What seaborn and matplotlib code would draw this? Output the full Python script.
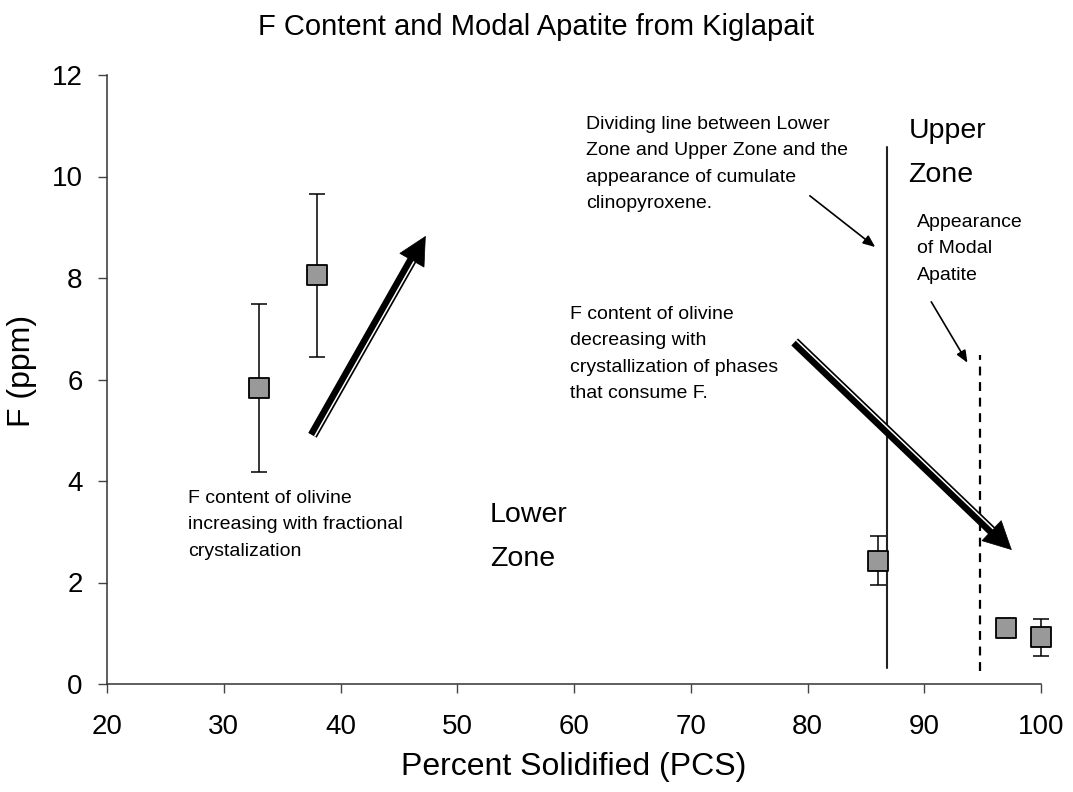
import numpy as np
import pandas as pd
import matplotlib
matplotlib.use("Agg")
import matplotlib.pyplot as plt
import seaborn as sns

# Percent solidified and F content of olivine, with error bar limits
pcs = [33, 38, 86, 97, 100]
f_ppm = [5.83, 8.05, 2.43, 1.10, 0.92]
f_low = [4.17, 6.45, 1.95, 1.10, 0.55]
f_high = [7.49, 9.65, 2.92, 1.10, 1.29]

x_ticks = [20, 30, 40, 50, 60, 70, 80, 90, 100]
y_ticks = [0, 2, 4, 6, 8, 10, 12]

sns.set_theme(style="white")
plt.rcParams["font.family"] = ["Liberation Sans", "DejaVu Sans"]
plt.rcParams["text.color"] = "black"

df = pd.DataFrame({"PCS": pcs, "F": f_ppm})

fig = plt.figure(figsize=(10.73, 7.92), dpi=100)
ax = fig.add_axes([107 / 1073, 1 - 684 / 792, (1041 - 107) / 1073, (684 - 75) / 792])

yerr = np.array([np.array(f_ppm) - np.array(f_low), np.array(f_high) - np.array(f_ppm)])
eb = ax.errorbar(pcs, f_ppm, yerr=yerr, fmt="none", ecolor="black", elinewidth=1.1,
                 capsize=6, capthick=1.1, zorder=2)
for art in eb.lines[1] + eb.lines[2]:
    art.set_clip_on(False)
sns.scatterplot(data=df, x="PCS", y="F", marker="s", s=210, color="#999999",
                edgecolor="black", linewidth=1.3, ax=ax, zorder=3, legend=False,
                clip_on=False)

ax.set_xlim(20, 100)
ax.set_ylim(0, 12)
ax.set_xticks(x_ticks)
ax.set_yticks(y_ticks)
ax.tick_params(axis="both", labelsize=20, labelcolor="black", direction="out",
               length=6.5, width=1, color="#444444", left=True, bottom=True)
ax.tick_params(axis="x", pad=15)
ax.tick_params(axis="y", pad=11)
for side in ["top", "right"]:
    ax.spines[side].set_visible(False)
for side in ["left", "bottom"]:
    ax.spines[side].set_color("#333333")
    ax.spines[side].set_linewidth(1.1)
ax.set_xlabel("Percent Solidified (PCS)", fontsize=23, color="black")
ax.set_ylabel("F (ppm)", fontsize=23, color="black")
ax.xaxis.set_label_coords(0.5, -0.111)
ax.yaxis.set_label_coords(-0.075, 0.514)
fig.text(0.5, 1 - 35 / 792, "F Content and Modal Apatite from Kiglapait",
         ha="center", va="baseline", fontsize=21)

# Zone boundary and apatite-in line
ax.plot([86.8, 86.8], [0.32, 10.58], color="#222222", lw=1.5, zorder=1)
ax.plot([94.8, 94.8], [0.26, 6.48], color="black", lw=1.6, ls=(0, (4, 3)), zorder=1)


def double_arrow(x0, y0, x1, y1, head_px=27):
    p0 = ax.transData.transform((x0, y0))
    p1 = ax.transData.transform((x1, y1))
    d = p1 - p0
    d = d / np.hypot(*d)
    perp = np.array([d[1], -d[0]])
    if perp[0] < 0:
        perp = -perp
    inv = ax.transData.inverted()
    base = inv.transform(p1 - d * (head_px - 2))
    # shaft
    ax.plot([x0, base[0]], [y0, base[1]], color="black", lw=7,
            solid_capstyle="butt", zorder=4)
    # head
    ax.annotate("", xy=(x1, y1), xytext=tuple(base),
                arrowprops=dict(arrowstyle="-|>,head_length=0.98,head_width=0.5",
                                mutation_scale=20, lw=0.5, color="black",
                                shrinkA=0, shrinkB=0, joinstyle="miter"),
                zorder=4)
    # white stripe along one edge of the shaft
    s0 = inv.transform(p0 + perp * 2.4)
    s1 = inv.transform(p1 - d * (head_px + 1) + perp * 2.4)
    ax.plot([s0[0], s1[0]], [s0[1], s1[1]], color="white", lw=1.1,
            solid_capstyle="butt", zorder=5)


double_arrow(37.6, 4.9, 47.3, 8.83)
double_arrow(78.9, 6.74, 97.5, 2.64)

thin = dict(arrowstyle="-|>,head_length=0.6,head_width=0.25", lw=1.2,
            color="black", shrinkA=0, shrinkB=0)
ax.annotate("", xy=(85.8, 8.61), xytext=(80.2, 9.62), arrowprops=thin)
ax.annotate("", xy=(93.7, 6.33), xytext=(90.6, 7.53), arrowprops=thin)

small = 14
ls_small = 1.72
big = 20.5
ls_big = 1.9
ax.text(26.95, 3.82, "F content of olivine\nincreasing with fractional\ncrystalization",
        fontsize=small, va="top", ha="left", linespacing=ls_small)
ax.text(52.8, 3.59, "Lower\nZone", fontsize=big, va="top", ha="left", linespacing=ls_big)
ax.text(88.65, 11.15, "Upper\nZone", fontsize=big, va="top", ha="left", linespacing=ls_big)
ax.text(61.0, 11.19,
        "Dividing line between Lower\nZone and Upper Zone and the\nappearance of cumulate\nclinopyroxene.",
        fontsize=small, va="top", ha="left", linespacing=ls_small)
ax.text(89.35, 9.26, "Appearance\nof Modal\nApatite", fontsize=small, va="top",
        ha="left", linespacing=ls_small)
ax.text(59.7, 7.45,
        "F content of olivine\ndecreasing with\ncrystallization of phases\nthat consume F.",
        fontsize=small, va="top", ha="left", linespacing=ls_small)

fig.savefig("out.png", dpi=100)
